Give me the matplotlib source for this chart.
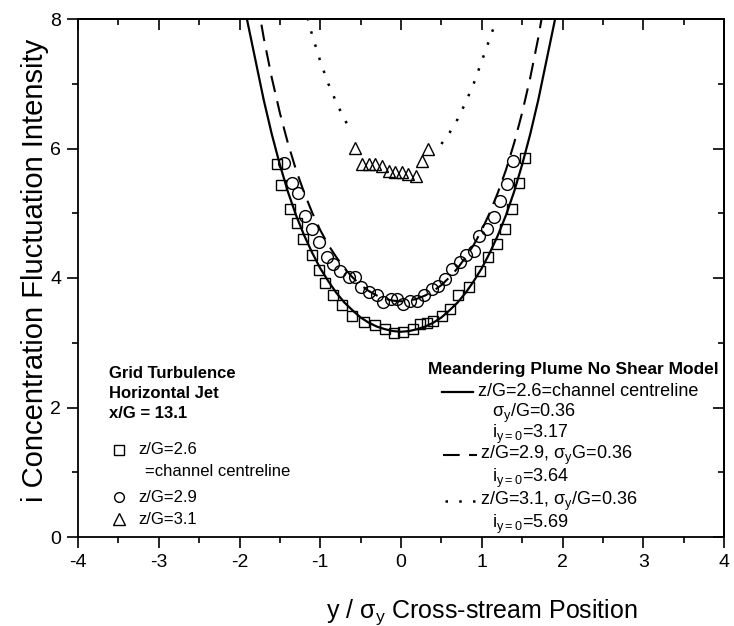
import matplotlib
matplotlib.use("Agg")
import matplotlib.pyplot as plt
from matplotlib.lines import Line2D
from matplotlib.ticker import MultipleLocator

plt.rcParams['font.family'] = ['Liberation Sans', 'DejaVu Sans']
plt.rcParams['mathtext.default'] = 'regular'
plt.rcParams['axes.unicode_minus'] = False

# ---------------- data ----------------
# measured points, z/G = 2.6 (squares)
sq_x = [-1.54, -1.48, -1.37, -1.29, -1.21, -1.10, -1.02, -0.94, -0.84, -0.73, -0.61, -0.46,
        -0.32, -0.20, -0.09, 0.03, 0.15, 0.24, 0.32, 0.40, 0.51, 0.61, 0.71, 0.84, 0.98,
        1.08, 1.19, 1.29, 1.37, 1.46, 1.54]
sq_i = [5.76, 5.44, 5.06, 4.85, 4.60, 4.35, 4.12, 3.93, 3.74, 3.59, 3.42, 3.32,
        3.27, 3.22, 3.15, 3.16, 3.22, 3.29, 3.30, 3.34, 3.42, 3.52, 3.73, 3.86, 4.11,
        4.32, 4.53, 4.76, 5.06, 5.47, 5.86]

# measured points, z/G = 2.9 (circles)
ci_x = [-1.45, -1.35, -1.27, -1.19, -1.10, -1.02, -0.92, -0.84, -0.75, -0.65, -0.57, -0.50,
        -0.40, -0.30, -0.22, -0.13, -0.05, 0.03, 0.11, 0.20, 0.28, 0.38, 0.46, 0.55, 0.63,
        0.73, 0.80, 0.90, 0.96, 1.06, 1.15, 1.23, 1.31, 1.39]
ci_i = [5.77, 5.46, 5.32, 4.96, 4.76, 4.55, 4.32, 4.22, 4.11, 4.01, 4.01, 3.86,
        3.78, 3.73, 3.63, 3.68, 3.68, 3.60, 3.65, 3.65, 3.73, 3.83, 3.88, 3.99, 4.14,
        4.24, 4.35, 4.42, 4.65, 4.76, 4.94, 5.19, 5.45, 5.81]

# measured points, z/G = 3.1 (triangles)
tr_x = [-0.57, -0.48, -0.40, -0.32, -0.24, -0.15, -0.07, 0.01, 0.09, 0.18, 0.26, 0.34]
tr_i = [6.01, 5.76, 5.76, 5.76, 5.73, 5.65, 5.63, 5.63, 5.60, 5.58, 5.81, 5.99]

# model curves
m26_x = [-2.0, -1.9, -1.8, -1.7, -1.6, -1.5, -1.4, -1.3, -1.2, -1.1, -1.0, -0.9, -0.8, -0.7,
         -0.6, -0.5, -0.4, -0.3, -0.2, -0.1, 0.0, 0.1, 0.2, 0.3, 0.4, 0.5, 0.6, 0.7, 0.8,
         0.9, 1.0, 1.1, 1.2, 1.3, 1.4, 1.5, 1.6, 1.7, 1.8, 1.9, 2.0]
m26_i = [8.60, 7.95, 7.35, 6.75, 6.22, 5.75, 5.33, 4.97, 4.66, 4.39, 4.15, 3.95, 3.77, 3.62,
         3.50, 3.39, 3.31, 3.25, 3.21, 3.18, 3.17, 3.18, 3.21, 3.25, 3.31, 3.39, 3.50, 3.62,
         3.77, 3.95, 4.15, 4.39, 4.66, 4.97, 5.33, 5.75, 6.22, 6.75, 7.35, 7.95, 8.60]

m29_x = [-1.8, -1.7, -1.6, -1.5, -1.4, -1.3, -1.2, -1.1, -1.0, -0.9, -0.8, -0.7, -0.6, -0.5,
         -0.4, -0.3, -0.2, -0.1, 0.0, 0.1, 0.2, 0.3, 0.4, 0.5, 0.6, 0.7, 0.8, 0.9, 1.0,
         1.1, 1.2, 1.3, 1.4, 1.5, 1.6, 1.7, 1.8]
m29_i = [8.43, 7.71, 7.09, 6.55, 6.08, 5.67, 5.32, 5.01, 4.74, 4.51, 4.32, 4.15, 4.01, 3.89,
         3.80, 3.73, 3.68, 3.65, 3.64, 3.65, 3.68, 3.73, 3.80, 3.89, 4.01, 4.15, 4.32, 4.51,
         4.74, 5.01, 5.32, 5.67, 6.08, 6.55, 7.09, 7.71, 8.43]

m31_left_x = [-1.20, -1.10, -1.00, -0.90, -0.80, -0.70, -0.62]
m31_left_i = [8.22, 7.75, 7.35, 7.00, 6.71, 6.45, 6.28]
m31_right_x = [0.50, 0.60, 0.70, 0.80, 0.90, 1.00, 1.10, 1.20, 1.30]
m31_right_i = [6.07, 6.24, 6.45, 6.71, 7.00, 7.35, 7.70, 8.05, 8.40]

x_ticks = [-4, -3, -2, -1, 0, 1, 2, 3, 4]
y_ticks = [0, 2, 4, 6, 8]

# ---------------- figure ----------------
W, H = 734, 626
fig = plt.figure(figsize=(W / 100, H / 100), dpi=100)

def fx(px):
    return px / W

def fy(py):
    return 1 - py / H

L, R, T, B = 78, 724, 19, 537
ax = fig.add_axes([fx(L), fy(B), (R - L) / W, (B - T) / H])

DASH = (0, (8, 4.5))
DOT = (0, (1.0, 4.5))
ax.plot(m26_x, m26_i, '-', color='black', lw=1.6, zorder=2)
ax.plot(m29_x, m29_i, color='black', lw=1.5, linestyle=DASH, zorder=2)
ax.plot(m31_left_x, m31_left_i, color='black', lw=1.8, linestyle=DOT, zorder=2)
ax.plot(m31_right_x, m31_right_i, color='black', lw=1.8, linestyle=DOT, zorder=2)

ax.plot(sq_x, sq_i, 's', ms=7.5, mfc='none', mec='black', mew=1.0, zorder=3)
ax.plot(ci_x, ci_i, 'o', ms=8.5, mfc='none', mec='black', mew=1.0, zorder=3)
ax.plot(tr_x, tr_i, '^', ms=9, mfc='none', mec='black', mew=1.0, zorder=3)

ax.set_xlim(-4, 4)
ax.set_ylim(0, 8)
ax.set_xticks(x_ticks)
ax.set_yticks(y_ticks)
ax.xaxis.set_minor_locator(MultipleLocator(0.5))
ax.yaxis.set_minor_locator(MultipleLocator(1))
for s in ax.spines.values():
    s.set_linewidth(1.3)
ax.tick_params(which='both', direction='out', top=False, right=False, width=1.2)
ax.tick_params(which='major', length=8, labelsize=14, pad=4)
ax.tick_params(which='minor', length=4.5)
# mirrored inward ticks on top and right
axt = ax.secondary_xaxis('top')
axt.set_xticks(x_ticks)
axt.xaxis.set_minor_locator(MultipleLocator(0.5))
axt.tick_params(which='both', direction='in', labeltop=False, width=1.2)
axt.tick_params(which='major', length=8)
axt.tick_params(which='minor', length=4.5)
axr = ax.secondary_yaxis('right')
axr.set_yticks(y_ticks)
axr.yaxis.set_minor_locator(MultipleLocator(1))
axr.tick_params(which='both', direction='in', labelright=False, width=1.2)
axr.tick_params(which='major', length=8)
axr.tick_params(which='minor', length=4.5)
for sa in (axt, axr):
    for s in sa.spines.values():
        s.set_linewidth(1.3)

fig.text(fx(482), fy(612), 'y / σ$_y$ Cross-stream Position', fontsize=18,
         ha='center', va='center')
fig.text(fx(35), fy(270), 'i Concentration Fluctuation Intensity', fontsize=21,
         ha='center', va='center', rotation=90)

# left annotation block
fsb = 12.5
fsg = 12
fsl = 12
fs2 = 13
fig.text(fx(109), fy(374), 'Grid Turbulence', fontsize=fsg, fontweight='bold', va='center')
fig.text(fx(109), fy(393), 'Horizontal Jet', fontsize=fsg, fontweight='bold', va='center')
fig.text(fx(109), fy(413), 'x/G = 13.1', fontsize=fsg, fontweight='bold', va='center')

mk = dict(mfc='none', mec='black', mew=1.0, transform=fig.transFigure, ls='none')
fig.add_artist(Line2D([fx(119)], [fy(450)], marker='s', ms=6.5, **mk))
fig.add_artist(Line2D([fx(119)], [fy(497)], marker='o', ms=7, **mk))
fig.add_artist(Line2D([fx(119)], [fy(519)], marker='^', ms=8, **mk))
fig.text(fx(138), fy(450), 'z/G=2.6', fontsize=fsl, va='center')
fig.text(fx(145), fy(471), '=channel centreline', fontsize=fsl, va='center')
fig.text(fx(138), fy(497), 'z/G=2.9', fontsize=fsl, va='center')
fig.text(fx(138), fy(519), 'z/G=3.1', fontsize=fsl, va='center')

# right annotation block
fig.text(fx(428), fy(369), 'Meandering Plume No Shear Model', fontsize=fsb,
         fontweight='bold', va='center')
fig.add_artist(Line2D([fx(442), fx(473)], [fy(392), fy(392)], color='black', lw=1.6,
                      transform=fig.transFigure))
fig.add_artist(Line2D([fx(443), fx(477)], [fy(455), fy(455)], color='black', lw=1.5,
                      linestyle=DASH, transform=fig.transFigure))
fig.add_artist(Line2D([fx(445), fx(478)], [fy(501), fy(501)], color='black', lw=1.8,
                      linestyle=DOT, transform=fig.transFigure))
fig.text(fx(478), fy(392), 'z/G=2.6=channel centreline', fontsize=fs2, va='center')
fig.text(fx(492), fy(413), 'σ$_y$/G=0.36', fontsize=fs2, va='center')
fig.text(fx(492), fy(434), 'i$_{y=0}$=3.17', fontsize=fs2, va='center')
fig.text(fx(480), fy(455), 'z/G=2.9, σ$_y$G=0.36', fontsize=fs2, va='center')
fig.text(fx(492), fy(478), 'i$_{y=0}$=3.64', fontsize=fs2, va='center')
fig.text(fx(480), fy(501), 'z/G=3.1, σ$_y$/G=0.36', fontsize=fs2, va='center')
fig.text(fx(492), fy(524), 'i$_{y=0}$=5.69', fontsize=fs2, va='center')

fig.savefig('out.png', dpi=100)
